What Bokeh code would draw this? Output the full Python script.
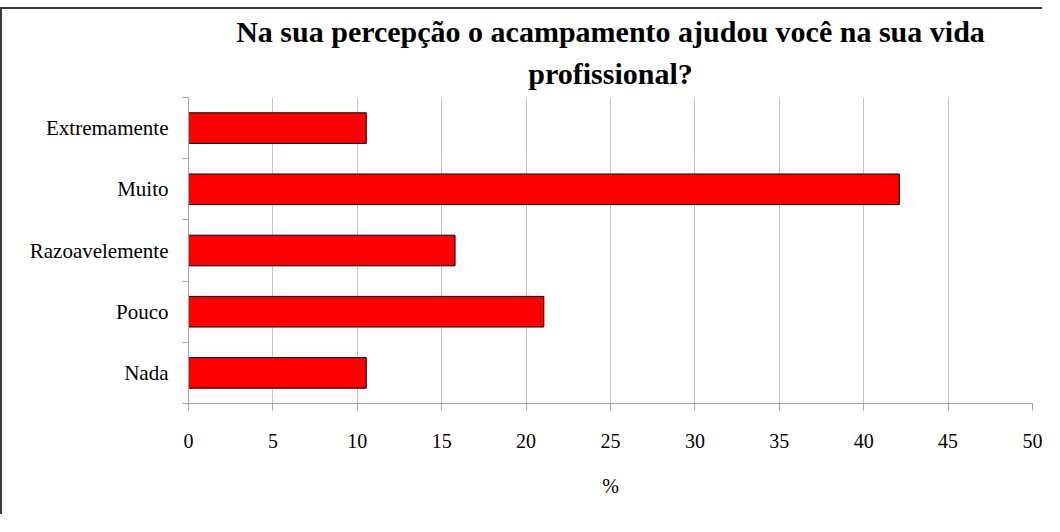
import numpy as np
from bokeh.plotting import figure
from bokeh.models import FixedTicker, Title, Range1d
from bokeh.embed import file_html
from bokeh.resources import INLINE

# Data (top-to-bottom as shown in the chart)
categories = ["Extremamente", "Muito", "Razoavelemente", "Pouco", "Nada"]
values = [10.53, 42.11, 15.79, 21.05, 10.53]
x_ticks = [0, 5, 10, 15, 20, 25, 30, 35, 40, 45, 50]
title_line1 = "Na sua percepção o acampamento ajudou você na sua vida"
title_line2 = "profissional?"
x_label = "%"

# bottom-to-top order for a numeric band axis
cats_bt = categories[::-1]
vals_bt = values[::-1]
n = len(cats_bt)
ypos = list(np.arange(n) + 0.5)
bounds = list(np.arange(n + 1).astype(float))

SERIF = "Liberation Serif"

p = figure(width=1042, height=507,
           x_range=Range1d(x_ticks[0], x_ticks[-1]), y_range=Range1d(0, n),
           output_backend="svg", toolbar_location=None,
           min_border_left=186, min_border_right=12,
           min_border_top=88, min_border_bottom=113)
p.styles = {"border-left": "2px solid #3a3a3a", "border-top": "2px solid #3a3a3a",
            "margin-top": "7px"}

p.hbar(y=ypos, left=0, right=vals_bt, height=0.5,
       fill_color="#ff0000", line_color="#000000", line_width=1)

# titles (first added is closest to the plot)
p.add_layout(Title(text=title_line2, align="center", text_font=SERIF,
                   text_font_size="30px", text_font_style="bold",
                   text_color="#000000", standoff=16), "above")
p.add_layout(Title(text=title_line1, align="center", text_font=SERIF,
                   text_font_size="30px", text_font_style="bold",
                   text_color="#000000", standoff=-3), "above")

p.outline_line_color = None
p.background_fill_color = "white"
p.border_fill_color = "white"

# x axis
xa = p.xaxis[0]
xa.ticker = FixedTicker(ticks=x_ticks, minor_ticks=[])
xa.axis_line_color = "#a6a6a6"
xa.major_tick_line_color = "#a6a6a6"
xa.major_tick_out = 7
xa.major_tick_in = 0
xa.minor_tick_line_color = None
xa.major_label_text_font = SERIF
xa.major_label_text_font_size = "20px"
xa.major_label_text_color = "#000000"
xa.major_label_standoff = 23
xa.axis_label = x_label
xa.axis_label_text_font = SERIF
xa.axis_label_text_font_size = "20px"
xa.axis_label_text_font_style = "normal"
xa.axis_label_text_color = "#000000"
xa.axis_label_standoff = 24

# y axis: labels at band centres, ticks at band boundaries
ya = p.yaxis[0]
ya.ticker = FixedTicker(ticks=ypos, minor_ticks=bounds)
ya.major_label_overrides = {float(y): c for y, c in zip(ypos, cats_bt)}
ya.axis_line_color = "#a6a6a6"
ya.major_tick_line_color = None
ya.major_tick_out = 0
ya.major_tick_in = 0
ya.minor_tick_line_color = "#a6a6a6"
ya.minor_tick_out = 6
ya.minor_tick_in = 0
ya.major_label_text_font = SERIF
ya.major_label_text_font_size = "21px"
ya.major_label_text_color = "#000000"
ya.major_label_standoff = 14

p.xgrid.ticker = FixedTicker(ticks=x_ticks)
p.xgrid.grid_line_color = "#c4c4c4"
p.ygrid.visible = False

open("out.html", "w").write(file_html(p, INLINE))
